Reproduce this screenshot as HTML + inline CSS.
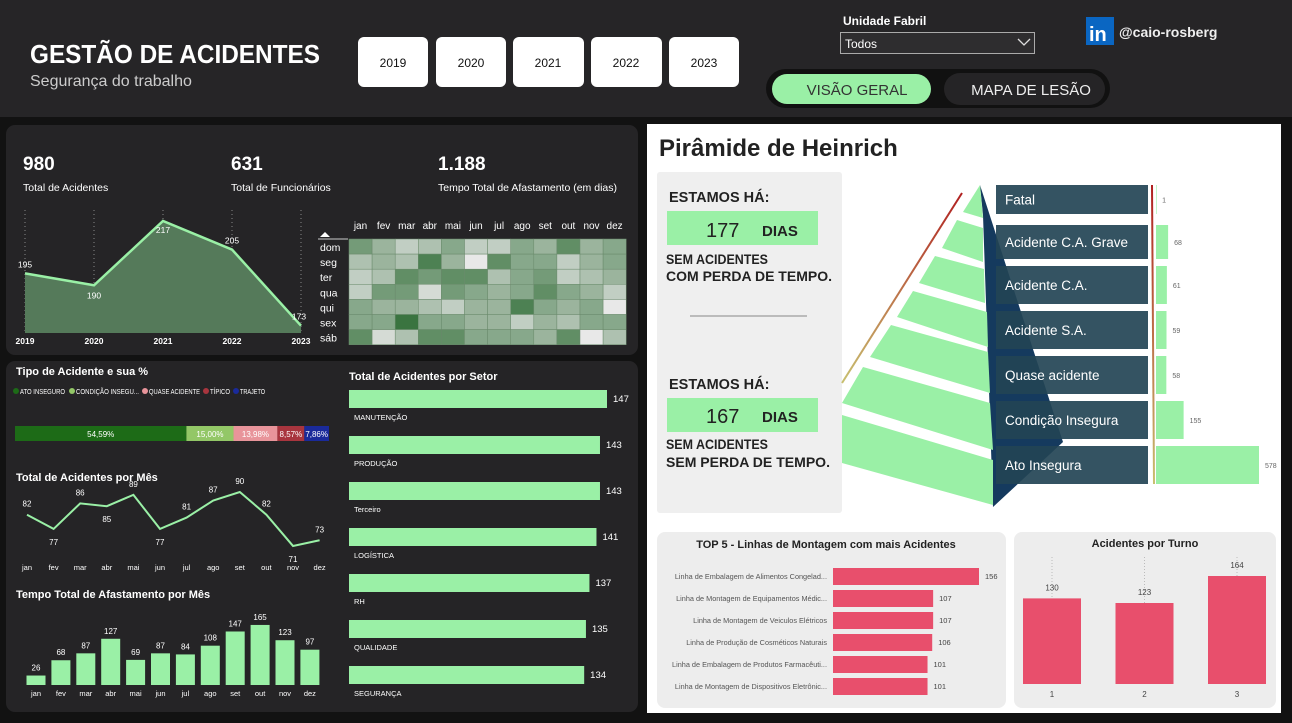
<!DOCTYPE html>
<html><head><meta charset="utf-8"><style>
html,body{margin:0;padding:0;background:#121212;}
svg{display:block;font-family:"Liberation Sans",sans-serif;}
</style></head><body>
<svg id="s" width="1292" height="723" viewBox="0 0 1292 723" xmlns="http://www.w3.org/2000/svg">
<rect x="0" y="0" width="1292" height="723" fill="#121212"/>
<rect x="0" y="0" width="1292" height="117" fill="#262527"/>
<text x="30" y="63" fill="#fff" font-size="26" font-weight="bold" textLength="290" lengthAdjust="spacingAndGlyphs">GESTÃO DE ACIDENTES</text>
<text x="30" y="86" fill="#ccc" font-size="16">Segurança do trabalho</text>
<g font-size="12" fill="#111" text-anchor="middle">
<rect x="358" y="37" width="70" height="50" rx="6" fill="#fff"/><text x="393" y="67">2019</text>
<rect x="436" y="37" width="70" height="50" rx="6" fill="#fff"/><text x="471" y="67">2020</text>
<rect x="513" y="37" width="71" height="50" rx="6" fill="#fff"/><text x="548" y="67">2021</text>
<rect x="591" y="37" width="71" height="50" rx="6" fill="#fff"/><text x="626" y="67">2022</text>
<rect x="669" y="37" width="70" height="50" rx="6" fill="#fff"/><text x="704" y="67">2023</text>
</g>
<text x="843" y="25" fill="#fff" font-size="12" font-weight="bold">Unidade Fabril</text>
<rect x="840.5" y="32.5" width="194" height="21" fill="#2e2d2f" stroke="#aaa"/>
<text x="845" y="48" fill="#fff" font-size="12">Todos</text>
<path d="M1018 39 L1024 45 L1030 39" stroke="#ddd" fill="none" stroke-width="1.3"/>
<rect x="1086" y="17" width="28" height="28" fill="#0a66c2"/>
<text x="1089" y="41" fill="#fff" font-size="20" font-weight="bold">in</text>
<text x="1119" y="37" fill="#eee" font-size="14" font-weight="bold">@caio-rosberg</text>
<rect x="766" y="69" width="344" height="39" rx="19.5" fill="#111"/>
<rect x="772" y="74" width="159" height="30" rx="15" fill="#9af0a6"/>
<text x="857" y="95" fill="#333" font-size="15" text-anchor="middle">VISÃO GERAL</text>
<rect x="944" y="73" width="161" height="32" rx="16" fill="#252426"/>
<text x="1031" y="95" fill="#eee" font-size="15" text-anchor="middle">MAPA DE LESÃO</text>

<rect x="6" y="125" width="632" height="230" rx="9" fill="#252426"/>
<rect x="6" y="361" width="632" height="351" rx="9" fill="#252426"/>
<g fill="#fff">
<text x="23" y="170" font-size="19" font-weight="bold">980</text>
<text x="23" y="191" font-size="10.5">Total de Acidentes</text>
<text x="231" y="170" font-size="19" font-weight="bold">631</text>
<text x="231" y="191" font-size="10.5">Total de Funcionários</text>
<text x="438" y="170" font-size="19" font-weight="bold">1.188</text>
<text x="438" y="191" font-size="10.5">Tempo Total de Afastamento (em dias)</text>
</g>
<path d="M320 237 L325 232 L330 237Z" fill="#fff"/>
<line x1="318" y1="239" x2="348" y2="239" stroke="#ccc"/>
<g id="yearChart"></g>
<g id="heat"></g>

<text x="16" y="375" fill="#fff" font-size="11" font-weight="bold">Tipo de Acidente e sua %</text>
<g id="stack"></g>
<text x="16" y="481" fill="#fff" font-size="11" font-weight="bold">Total de Acidentes por Mês</text>
<g id="mline"></g>
<text x="16" y="598" fill="#fff" font-size="11" font-weight="bold">Tempo Total de Afastamento por Mês</text>
<g id="mbar"></g>
<text x="349" y="380" fill="#fff" font-size="11" font-weight="bold">Total de Acidentes por Setor</text>
<g id="sector"></g>

<rect x="647" y="124" width="634" height="589" fill="#fff"/>
<text x="659" y="156" fill="#222" font-size="24" font-weight="bold">Pirâmide de Heinrich</text>
<defs><linearGradient id="lg" x1="0" y1="0" x2="0" y2="1"><stop offset="0" stop-color="#b02020"/><stop offset="1" stop-color="#c8c070"/></linearGradient></defs>
<rect x="657" y="172" width="185" height="341" rx="3" fill="#efefef"/>
<g>
<line x1="962" y1="193" x2="842" y2="383" stroke="url(#lg)" stroke-width="2"/>
<polygon points="980,185 1063,442 993,507 983,215" fill="#153a5e"/>
<g fill="#9af0a6">
<polygon points="980,185 963,212 983,218"/>
<polygon points="957,220 983,228 983,262 942,248"/>
<polygon points="935,256 984,269 985,303 919,283"/>
<polygon points="913,291 987,312 988,347 897,317"/>
<polygon points="891,325 988,352 990,393 870,357"/>
<polygon points="863,367 990,403 993,450 842,403"/>
<polygon points="842,415 993,460 993,505 842,463"/>
</g>
<line x1="1152" y1="185" x2="1154" y2="484" stroke="url(#lg)" stroke-width="2"/>
</g>
<g font-weight="bold" fill="#222">
<text x="669" y="202" font-size="14.5">ESTAMOS HÁ:</text>
<rect x="667" y="211" width="151" height="34" fill="#9af0a6"/>
<text x="706" y="237" font-size="20" font-weight="normal">177</text>
<text x="762" y="236" font-size="15">DIAS</text>
<text x="666" y="264" font-size="14" textLength="102" lengthAdjust="spacingAndGlyphs">SEM ACIDENTES</text>
<text x="666" y="281" font-size="14" textLength="166" lengthAdjust="spacingAndGlyphs">COM PERDA DE TEMPO.</text>
<line x1="690" y1="316" x2="807" y2="316" stroke="#bbb" stroke-width="2"/>
<text x="669" y="389" font-size="14.5">ESTAMOS HÁ:</text>
<rect x="667" y="398" width="151" height="34" fill="#9af0a6"/>
<text x="706" y="423" font-size="20" font-weight="normal">167</text>
<text x="762" y="422" font-size="15">DIAS</text>
<text x="666" y="449" font-size="14" textLength="102" lengthAdjust="spacingAndGlyphs">SEM ACIDENTES</text>
<text x="666" y="467" font-size="14" textLength="164" lengthAdjust="spacingAndGlyphs">SEM PERDA DE TEMPO.</text>
</g>
<g id="pyr"></g>

<rect x="657" y="532" width="349" height="176" rx="8" fill="#ededed"/>
<text x="826" y="548" fill="#222" font-size="11" font-weight="bold" text-anchor="middle">TOP 5 - Linhas de Montagem com mais Acidentes</text>
<g id="top5"></g>
<rect x="1014" y="532" width="262" height="176" rx="8" fill="#ededed"/>
<text x="1145" y="547" fill="#222" font-size="11" font-weight="bold" text-anchor="middle">Acidentes por Turno</text>
<g id="turno"></g>
</svg>
<script>
const years=["2019","2020","2021","2022","2023"];
const yearVals=[195,190,217,205,173];
const months=["jan","fev","mar","abr","mai","jun","jul","ago","set","out","nov","dez"];
const days=["dom","seg","ter","qua","qui","sex","sáb"];
const heatVals=[
[6,4,2,3,5,2,2,5,4,7,4,5],
[3,4,3,8,4,0,7,5,5,2,4,5],
[2,3,7,6,7,7,3,5,6,2,3,4],
[2,6,6,1,6,5,4,5,7,5,4,2],
[5,4,4,3,2,4,4,8,5,4,5,0],
[5,5,9,5,5,4,4,2,4,3,5,5],
[7,1,3,7,7,5,5,5,4,7,0,3]];
const typeNames=["ATO INSEGURO","CONDIÇÃO INSEGU...","QUASE ACIDENTE","TÍPICO","TRAJETO"];
const typePct=[54.59,15.00,13.98,8.57,7.86];
const monthAcc=[82,77,86,85,89,77,81,87,90,82,71,73];
const monthLeave=[26,68,87,127,69,87,84,108,147,165,123,97];
const sectors=["MANUTENÇÃO","PRODUÇÃO","Terceiro","LOGÍSTICA","RH","QUALIDADE","SEGURANÇA"];
const sectorVals=[147,143,143,141,137,135,134];
const levels=["Fatal","Acidente C.A. Grave","Acidente C.A.","Acidente S.A.","Quase acidente","Condição Insegura","Ato Insegura"];
const levelVals=[1,68,61,59,58,155,578];
const lines=["Linha de Embalagem de Alimentos Congelad...","Linha de Montagem de Equipamentos Médic...","Linha de Montagem de Veiculos Elétricos","Linha de Produção de Cosméticos Naturais","Linha de Embalagem de Produtos Farmacêuti...","Linha de Montagem de Dispositivos Eletrônic..."];
const lineVals=[156,107,107,106,101,101];
const shifts=["1","2","3"];
const shiftVals=[130,123,164];

const NS="http://www.w3.org/2000/svg";
function mk(parent,tag,attrs,txt){const e=document.createElementNS(NS,tag);for(const k in attrs)e.setAttribute(k,attrs[k]);if(txt!==undefined)e.textContent=txt;document.getElementById(parent).appendChild(e);return e;}
let e;

const yx=i=>25+i*69, yy=v=>221+(217-v)*2.38, yBase=333;
years.forEach((y,i)=>{
 e=mk("yearChart","line",{x1:yx(i),y1:210,x2:yx(i),y2:yBase,stroke:"#888","stroke-dasharray":"1,3"});
 
 
 e=mk("yearChart","text",{x:yx(i),y:344,fill:"#fff","font-size":8.5,"font-weight":"bold","text-anchor":"middle"},y);
 
 
});
let pts=yearVals.map((v,i)=>yx(i)+","+yy(v)).join(" ");
e=mk("yearChart","polygon",{points:yx(0)+","+yBase+" "+pts+" "+yx(4)+","+yBase,fill:"#557a5a"});


e=mk("yearChart","polyline",{points:pts,fill:"none",stroke:"#9af0a6","stroke-width":2.5});


yearVals.forEach((v,i)=>{
 const below=(i>0&&i<4&&v<yearVals[i-1]&&v<yearVals[i+1]);
 e=mk("yearChart","text",{x:yx(i)+(i==4?-2:0),y:below?yy(v)+13:(i==2?yy(v)+12:yy(v)-6),fill:"#fff","font-size":8.5,"text-anchor":"middle"},v);
 
 
});

const hx=c=>349+c*23.1, hy=r=>239+r*15.1;
function heatColor(v){const t=v/9;const a=[232,232,232],b=[58,116,64];return "rgb("+a.map((x,k)=>Math.round(x+(b[k]-x)*t)).join(",")+")";}
months.forEach((m,c)=>{
 e=mk("heat","text",{x:hx(c)+11.5,y:229,fill:"#fff","font-size":10,"text-anchor":"middle"},m);
 
 
});
days.forEach((d,r)=>{
 e=mk("heat","text",{x:320,y:hy(r)+12,fill:"#fff","font-size":10.5},d);
 
 
 heatVals[r].forEach((v,c)=>{
  e=mk("heat","rect",{x:hx(c),y:hy(r),width:23.1,height:15.1,fill:heatColor(v),stroke:"#6a8a6c","stroke-width":0.5});
  
  
 });
});

const typeColors=["#1d6b17","#93c767","#e8949a","#a8353e","#1a2a9a"];
const legX=[13,69,142,203,233], legW=[45,63,51,20,25];
const sx0=15,sW=314;let acc=0;
const total=typePct.reduce((a,b)=>a+b,0);
typeNames.forEach((n,i)=>{
 e=mk("stack","circle",{cx:legX[i]+3,cy:391,r:3,fill:typeColors[i]});
 
 
 e=mk("stack","text",{x:legX[i]+7,y:394,fill:"#fff","font-size":7.5,textLength:legW[i],lengthAdjust:"spacingAndGlyphs"},n);
 
 
 const w=typePct[i]/total*sW;
 e=mk("stack","rect",{x:sx0+acc,y:426,width:w,height:15,fill:typeColors[i]});
 
 
 e=mk("stack","text",{x:sx0+acc+w/2,y:437,fill:"#fff","font-size":8,"text-anchor":"middle"},typePct[i].toFixed(2).replace(".",",")+"%");
 
 
 acc+=w;
});

const mx=i=>27+i*26.6, my=v=>492+(90-v)*2.84;
e=mk("mline","polyline",{points:monthAcc.map((v,i)=>mx(i)+","+my(v)).join(" "),fill:"none",stroke:"#9af0a6","stroke-width":2});


monthAcc.forEach((v,i)=>{
 const below=(i>0&&v<monthAcc[i-1]&&(i==11||v<monthAcc[i+1]));
 e=mk("mline","text",{x:mx(i),y:below?my(v)+16:my(v)-8,fill:"#fff","font-size":8,"text-anchor":"middle"},v);
 
 
 e=mk("mline","text",{x:mx(i),y:570,fill:"#fff","font-size":7.5,"text-anchor":"middle"},months[i]);
 
 
});

const bx=i=>36+i*24.9, bBase=685, bh=v=>v*0.364;
monthLeave.forEach((v,i)=>{
 e=mk("mbar","rect",{x:bx(i)-9.5,y:bBase-bh(v),width:19,height:bh(v),fill:"#9af0a6"});
 
 
 e=mk("mbar","text",{x:bx(i),y:bBase-bh(v)-5,fill:"#fff","font-size":8,"text-anchor":"middle"},v);
 
 
 e=mk("mbar","text",{x:bx(i),y:696,fill:"#fff","font-size":7.5,"text-anchor":"middle"},months[i]);
 
 
});

const secW=v=>v*258/147;
sectors.forEach((s,i)=>{
 const y=390+i*46;
 e=mk("sector","rect",{x:349,y:y,width:secW(sectorVals[i]),height:18,fill:"#9af0a6"});
 
 
 e=mk("sector","text",{x:349+secW(sectorVals[i])+6,y:y+12,fill:"#fff","font-size":9.5},sectorVals[i]);
 
 
 e=mk("sector","text",{x:354,y:y+30,fill:"#fff","font-size":7.5},s);
 
 
});

const lvY=[185,225,266,311,356,401,446], lvH=[29,34,38,38,38,38,38];
const lvW=v=>v*103/578;
levels.forEach((l,i)=>{
 e=mk("pyr","rect",{x:996,y:lvY[i],width:152,height:lvH[i],fill:"#234455","fill-opacity":0.92});
 
 
 e=mk("pyr","text",{x:1005,y:lvY[i]+lvH[i]/2+5,fill:"#fff","font-size":13.5},l);
 
 
 e=mk("pyr","rect",{x:1156,y:lvY[i],width:Math.max(lvW(levelVals[i]),0.6),height:lvH[i],fill:"#9af0a6"});
 
 
 e=mk("pyr","text",{x:1156+lvW(levelVals[i])+6,y:lvY[i]+lvH[i]/2+3,fill:"#666","font-size":7},levelVals[i]);
 
 
});

const tW=v=>v*146/156;
lines.forEach((l,i)=>{
 const cy=576+i*22;
 e=mk("top5","rect",{x:833,y:cy-8,width:tW(lineVals[i]),height:17,fill:"#e84f6c"});
 
 
 e=mk("top5","text",{x:827,y:cy+3,fill:"#555","font-size":7.3,"text-anchor":"end"},l);
 
 
 e=mk("top5","text",{x:833+tW(lineVals[i])+6,y:cy+3,fill:"#444","font-size":7.5},lineVals[i]);
 
 
});

const tx=i=>1052+i*92.5, tBase=684, th=v=>v*108/164;
shifts.forEach((s,i)=>{
 e=mk("turno","line",{x1:tx(i),y1:557,x2:tx(i),y2:tBase,stroke:"#bbb","stroke-dasharray":"1,2"});
 
 
 e=mk("turno","rect",{x:tx(i)-29,y:tBase-th(shiftVals[i]),width:58,height:th(shiftVals[i]),fill:"#e84f6c"});
 
 
 e=mk("turno","text",{x:tx(i),y:tBase-th(shiftVals[i])-8,fill:"#444","font-size":8,"text-anchor":"middle"},shiftVals[i]);
 
 
 e=mk("turno","text",{x:tx(i),y:697,fill:"#444","font-size":8,"text-anchor":"middle"},s);
 
 
});
</script>
</body></html>
